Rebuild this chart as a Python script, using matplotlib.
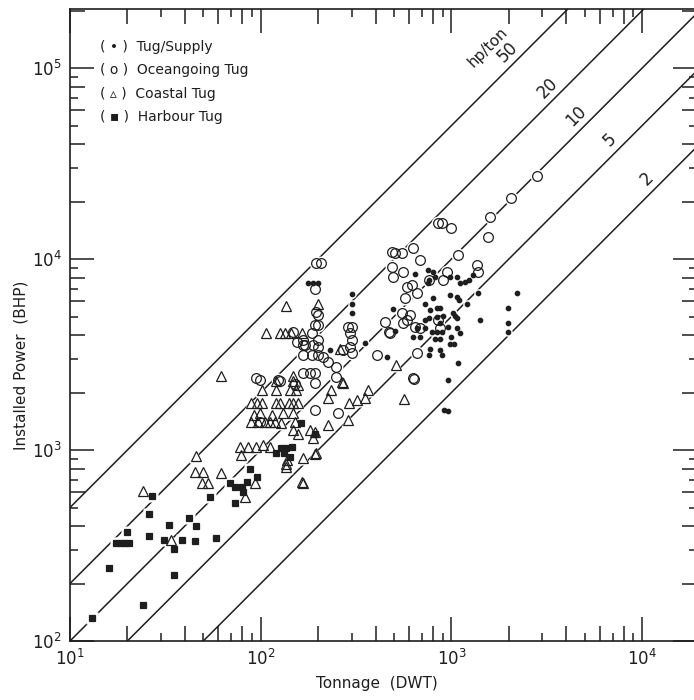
import numpy as np
import matplotlib
matplotlib.use("Agg")
import matplotlib.pyplot as plt
from matplotlib.ticker import LogLocator, NullFormatter, NullLocator, LogFormatterMathtext

# ---- data (DWT, BHP) ----
supply_dwt = [300, 300, 300, 352, 496, 644, 750, 750, 800, 820, 760, 984, 1070, 1110, 1180,
              1230, 1300, 1380, 984, 1070, 1090, 1200, 800, 727, 840, 871, 773, 760, 840, 905,
              1020, 1045, 1070, 871, 727, 790, 840, 890, 965, 1070, 1110, 1000, 871, 820, 630,
              773, 871, 984, 1030, 760, 890, 1080, 963, 1410, 1980, 2210, 1980, 1980, 506, 460,
              910, 965, 189, 200, 178, 231, 657, 727, 684]
supply_bhp = [6600, 5800, 5200, 3620, 5500, 8400, 7460, 8750, 8600, 8050, 7760, 8050, 8050, 7460, 7600,
              7760, 8240, 6610, 6480, 6350, 6100, 5840, 6230, 5840, 5560, 5560, 5410, 4920, 4980, 5060,
              5210, 5030, 4920, 4630, 4340, 4150, 4150, 4150, 4400, 4340, 4080, 3930, 3810, 3810, 3900,
              3400, 3340, 3610, 3610, 3140, 3140, 2860, 2330, 4770, 5560, 6610, 4630, 4150, 4180, 3080,
              1620, 1600, 7460, 7460, 7500, 3340, 4340, 4800, 3900]

ocean_dwt = [853, 889, 995, 1087, 1592, 1560, 2047, 2820,
             486, 506, 548, 631, 684, 486, 560, 496, 618, 583, 657, 571, 766, 907, 945, 1358, 1384,
             449, 560, 607, 684, 853, 476, 406, 657, 631,
             196, 207, 193, 196, 193, 200, 185, 167, 200, 167, 189, 200, 167, 185, 200, 213,
             288, 300, 294, 300, 294, 300, 271,
             548, 583, 645, 640, 255, 472, 871,
             199, 148, 155, 170, 126, 99, 167, 181, 193, 193, 193, 226, 247, 247, 95, 123, 151, 99]
ocean_bhp = [15400, 15400, 14500, 10500, 16700, 13000, 20800, 27300,
             10900, 10700, 10700, 11400, 9880, 9120, 8580, 8080, 7310, 7160, 6610, 6230, 7760, 7760, 8580, 9300, 8580,
             4700, 4600, 5090, 4340, 4800, 4080, 3140, 3210, 2370,
             9500, 9500, 7000, 5300, 4510, 4510, 4080, 3770, 3770, 3550, 3550, 3480, 3140, 3140, 3140, 3080,
             4425, 4425, 4080, 3770, 3480, 3210, 3340,
             5210, 4800, 4390, 2350, 1560, 4150, 4340,
             5090, 4150, 3700, 3550, 2290, 2330, 2520, 2520, 2520, 2240, 1620, 2880, 2710, 2420, 2370, 2330, 2230, 1400]

coastal_dwt = [24, 34, 46, 45, 50, 49, 53, 62,
               78, 86, 95, 103, 112, 79,
               89, 97, 105, 112, 119,
               93, 83, 135, 62,
               92, 99, 131, 148,
               89, 96, 101, 120, 126, 140, 148, 157,
               101, 120, 142, 154,
               121, 148, 157, 147, 115, 151, 138, 164,
               135, 199, 107, 126, 134, 145, 164,
               260, 271, 226, 289, 318, 352, 367, 288, 226, 196, 167, 136, 148, 157, 128,
               510, 567, 266, 233, 181, 193, 189, 193, 167]
coastal_bhp = [610, 340, 930, 765, 765, 675, 675, 755,
               1040, 1040, 1040, 1060, 1040, 940,
               1400, 1400, 1400, 1400, 1400,
               670, 570, 850, 2450,
               1525, 1557, 1557, 1557,
               1755, 1755, 1755, 1755, 1755, 1755, 1755, 1755,
               2062, 2062, 2062, 2062,
               2300, 2300, 2190, 2430, 1520, 1400, 890, 680,
               5700, 5800, 4100, 4100, 4100, 4100, 4100,
               3400, 2250, 1870, 1755, 1830, 1865, 2060, 1440, 1350, 960, 910, 820, 1270, 1220, 1390,
               2790, 1850, 2260, 2060, 1273, 1247, 1151, 950, 675]

harbour_dwt = [13, 16, 17.5, 18.5, 19.5, 20.5, 20, 24, 26, 26, 27, 31, 33, 35, 35, 38.5, 42, 45, 46,
               54, 58, 73, 69, 73, 79.5, 84.4, 81, 88, 95.5, 121, 128, 136, 146, 133, 142, 162, 193]
harbour_bhp = [132, 240, 325, 325, 325, 325, 373, 155, 460, 355, 575, 338, 405, 303, 222, 340, 440, 335, 400,
               570, 345, 530, 669, 643, 643, 682, 605, 795, 725, 970, 1030, 1030, 1040, 960, 915, 1380, 1220]

hp_per_ton = [50, 20, 10, 5, 2]
label_dwt = [2190, 3550, 5020, 7550, 11800]   # where each ratio label sits along its line

XMIN, XMAX = 10, 19400
YMIN, YMAX = 100, 204000
INK = "#1e1e1e"

plt.rcParams["font.family"] = ["DejaVu Sans"]
plt.rcParams["mathtext.fontset"] = "dejavusans"

fig = plt.figure(figsize=(6.94, 7.0), dpi=100)
pos = [70 / 694, 59 / 700, 627 / 694, 632 / 700]
ax = fig.add_axes(pos)
ax.set_xscale("log"); ax.set_yscale("log")
ax.set_xlim(XMIN, XMAX); ax.set_ylim(YMIN, YMAX)

# constant hp/ton lines
xs = np.array([XMIN, XMAX], float)
for k in hp_per_ton:
    ax.plot(xs, k * xs, color=INK, lw=1.1, zorder=1)
for k, xl in zip(hp_per_ton, label_dwt):
    ax.annotate(str(k), (xl, k * xl), xytext=(-9, 9), textcoords="offset pixels",
                rotation=45, rotation_mode="anchor", ha="center", va="center",
                fontsize=12, color=INK)
ax.annotate("hp/ton", (1860, 50 * 1860), xytext=(-15, 27), textcoords="offset pixels",
            rotation=45, rotation_mode="anchor", ha="center", va="center",
            fontsize=11, color=INK)

# white halos break the lines under the symbols, then the symbols themselves
series = [
    (supply_dwt, supply_bhp, "o", 3.2, INK, INK),
    (ocean_dwt, ocean_bhp, "o", 7.0, "none", INK),
    (coastal_dwt, coastal_bhp, "^", 6.5, "none", INK),
    (harbour_dwt, harbour_bhp, "s", 5.0, INK, INK),
]
for x, y, m, ms, fc, ec in series:
    ax.plot(x, y, ls="none", marker=m, ms=ms + 3, mfc="white", mec="none", zorder=2)
for x, y, m, ms, fc, ec in series:
    ax.plot(x, y, ls="none", marker=m, ms=ms, mfc=fc, mec=ec, mew=0.9, zorder=3)

# legend as plain text, as in the original
legend_txt = ["( • )  Tug/Supply", "( o )  Oceangoing Tug", "( ▵ )  Coastal Tug", "( ▪ )  Harbour Tug"]
for i, t in enumerate(legend_txt):
    ax.text(0.048, 0.940 - 0.037 * i, t, transform=ax.transAxes, fontsize=10,
            va="center", ha="left", color=INK)

# ticks: decades long, odd multiples short
for axis in (ax.xaxis, ax.yaxis):
    axis.set_major_locator(LogLocator(base=10, numticks=12))
    axis.set_major_formatter(LogFormatterMathtext())
    axis.set_minor_locator(LogLocator(base=10, subs=(3, 5, 7, 9), numticks=12))
    axis.set_minor_formatter(NullFormatter())
ax.tick_params(which="major", direction="in", length=17, width=1.1, top=True, right=True,
               labelsize=12, colors=INK, pad=6)
ax.tick_params(which="minor", direction="in", length=6, width=1.1, top=True, right=True, colors=INK)
for s in ax.spines.values():
    s.set_linewidth(1.2); s.set_color(INK)

# even multiples get a medium tick on an overlay axes (no labels)
ax2 = fig.add_axes(pos, facecolor="none")
ax2.set_xscale("log"); ax2.set_yscale("log")
ax2.set_xlim(XMIN, XMAX); ax2.set_ylim(YMIN, YMAX)
for axis in (ax2.xaxis, ax2.yaxis):
    axis.set_major_locator(LogLocator(base=10, subs=(2, 4, 6, 8), numticks=12))
    axis.set_major_formatter(NullFormatter())
    axis.set_minor_locator(NullLocator())
    axis.set_minor_formatter(NullFormatter())
ax2.tick_params(which="major", direction="in", length=11, width=1.1, top=True, right=True,
                labelbottom=False, labelleft=False, colors=INK)
for s in ax2.spines.values():
    s.set_visible(False)

ax.set_xlabel("Tonnage  (DWT)", fontsize=11, color=INK)
ax.xaxis.set_label_coords(0.49, -0.055)
ax.set_ylabel("Installed Power  (BHP)", fontsize=11, color=INK)
ax.yaxis.set_label_coords(-0.066, 0.437)

fig.savefig("out.png", dpi=100, facecolor="white")
